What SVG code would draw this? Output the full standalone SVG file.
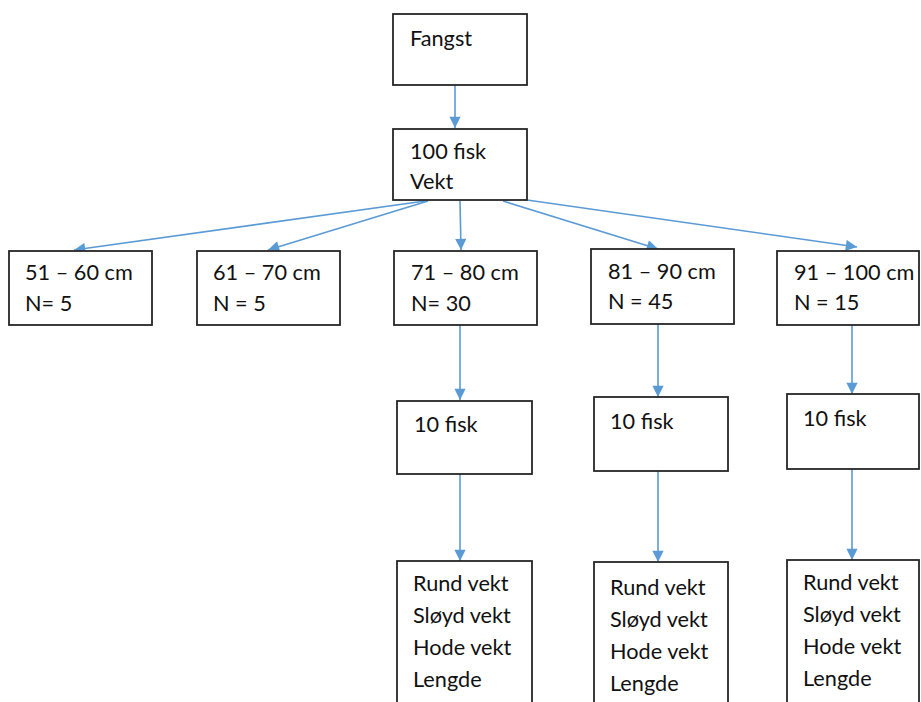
<svg xmlns="http://www.w3.org/2000/svg" width="921" height="702" viewBox="0 0 921 702">
<style>
.box{fill:#fff;stroke:#262626;stroke-width:1.8}
.t{font-family:Lato,"Open Sans","Liberation Sans",sans-serif;font-size:21.7px;fill:#111}
.c{stroke:#5b9bd5;stroke-width:1.6;fill:none;marker-end:url(#ah)}
</style>
<defs>
<marker id="ah" viewBox="0 0 10 10" refX="10" refY="5" markerWidth="7.5" markerHeight="7" markerUnits="strokeWidth" orient="auto">
<path d="M0,0 L10,5 L0,10 Z" fill="#5b9bd5"/>
</marker>
</defs>
<rect width="921" height="702" fill="#fff"/>
<g id="connectors">
<line class="c" x1="455" y1="85" x2="455" y2="128"/>
<line class="c" x1="425" y1="201" x2="74" y2="250"/>
<line class="c" x1="428" y1="201" x2="268" y2="250"/>
<line class="c" x1="460" y1="201" x2="461" y2="250"/>
<line class="c" x1="503" y1="201" x2="658" y2="249"/>
<line class="c" x1="527" y1="200" x2="857" y2="247"/>
<line class="c" x1="460" y1="325" x2="460" y2="400"/>
<line class="c" x1="658" y1="324" x2="658" y2="397"/>
<line class="c" x1="852" y1="325" x2="852" y2="394"/>
<line class="c" x1="460" y1="474" x2="460" y2="561"/>
<line class="c" x1="658" y1="471" x2="658" y2="562"/>
<line class="c" x1="852" y1="469" x2="852" y2="560"/>
</g>
<g id="fangst"><rect class="box" x="393" y="14" width="134" height="71"/><text class="t" x="410" y="46">Fangst</text></g>
<g id="fisk100"><rect class="box" x="393" y="129" width="134" height="71"/><text class="t" x="410" y="159">100 fisk</text><text class="t" x="410" y="189">Vekt</text></g>
<g id="r51"><rect class="box" x="9" y="251" width="143" height="74"/><text class="t" x="25" y="280">51 – 60 cm</text><text class="t" x="25" y="311">N= 5</text></g>
<g id="r61"><rect class="box" x="197" y="251" width="143" height="74"/><text class="t" x="213" y="280">61 – 70 cm</text><text class="t" x="213" y="311">N = 5</text></g>
<g id="r71"><rect class="box" x="394" y="251" width="143" height="74"/><text class="t" x="411" y="280">71 – 80 cm</text><text class="t" x="411" y="311">N= 30</text></g>
<g id="r81"><rect class="box" x="591" y="249" width="143" height="75"/><text class="t" x="608" y="279">81 – 90 cm</text><text class="t" x="608" y="309">N = 45</text></g>
<g id="r91"><rect class="box" x="777" y="251" width="142" height="74"/><text class="t" x="794" y="280">91 – 100 cm</text><text class="t" x="794" y="310">N = 15</text></g>
<g id="s71"><rect class="box" x="397" y="401" width="135" height="73"/><text class="t" x="414" y="432">10 fisk</text></g>
<g id="s81"><rect class="box" x="594" y="397" width="134" height="74"/><text class="t" x="610" y="429">10 fisk</text></g>
<g id="s91"><rect class="box" x="787" y="394" width="132" height="75"/><text class="t" x="803" y="426">10 fisk</text></g>
<g id="m71"><rect class="box" x="397" y="561" width="135" height="150"/><text class="t" x="413" y="591">Rund vekt</text><text class="t" x="413" y="623">Sløyd vekt</text><text class="t" x="413" y="655">Hode vekt</text><text class="t" x="413" y="687">Lengde</text></g>
<g id="m81"><rect class="box" x="594" y="562" width="134" height="150"/><text class="t" x="610" y="595">Rund vekt</text><text class="t" x="610" y="627">Sløyd vekt</text><text class="t" x="610" y="659">Hode vekt</text><text class="t" x="610" y="691">Lengde</text></g>
<g id="m91"><rect class="box" x="787" y="560" width="132" height="150"/><text class="t" x="803" y="590">Rund vekt</text><text class="t" x="803" y="622">Sløyd vekt</text><text class="t" x="803" y="654">Hode vekt</text><text class="t" x="803" y="686">Lengde</text></g>
</svg>
